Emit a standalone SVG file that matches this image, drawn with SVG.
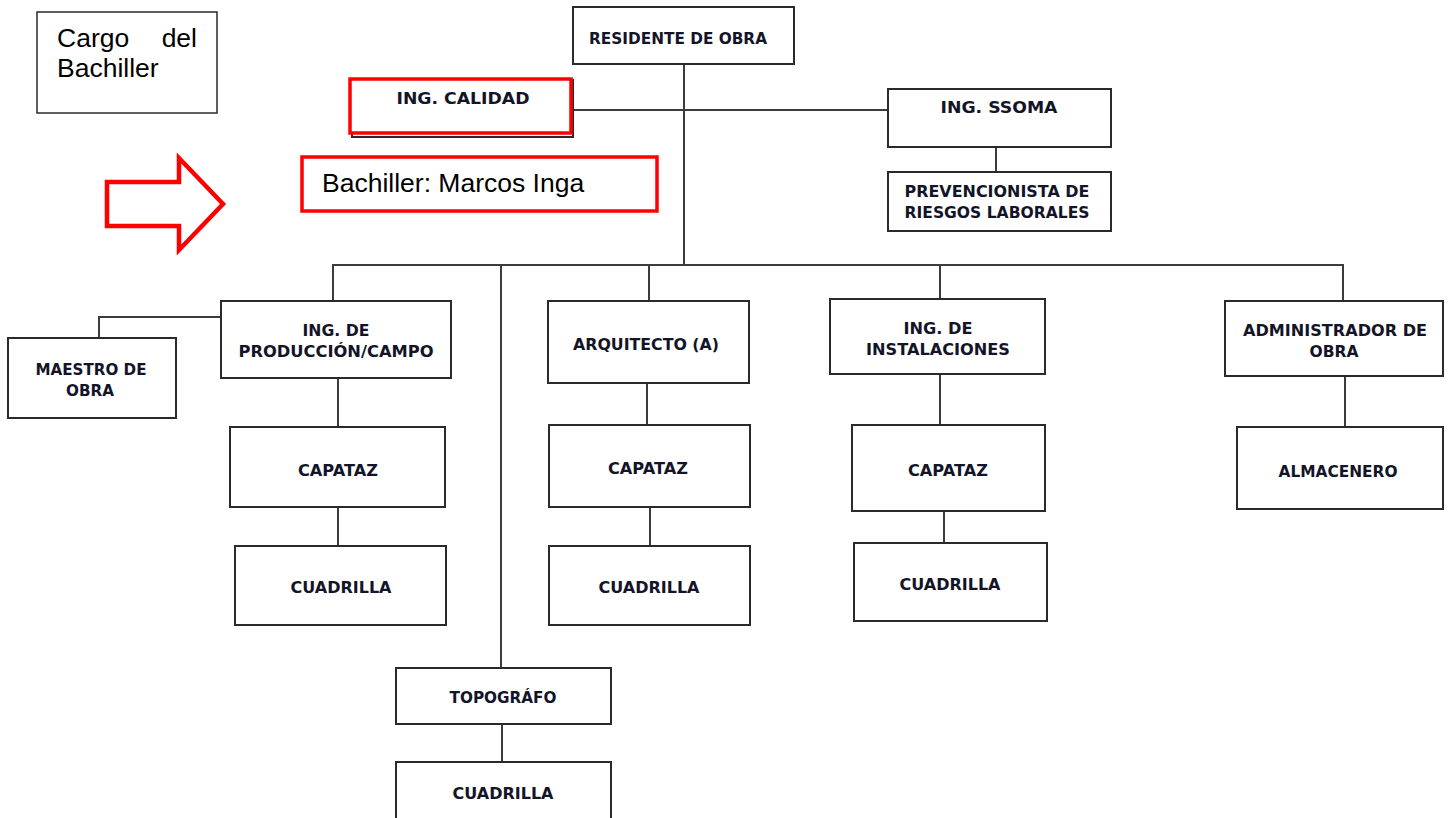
<svg xmlns="http://www.w3.org/2000/svg" width="1453" height="818" viewBox="0 0 1453 818">
<style>
.box{fill:#fff;stroke:#2a2a2a;stroke-width:2}
.red{fill:#fff;stroke:#ff0000;stroke-width:3.5}
.lbl{font-family:"DejaVu Sans",Verdana,sans-serif;font-weight:bold;font-size:15px;fill:#141428;text-anchor:middle}
.ar{font-family:"Liberation Sans",Arial,sans-serif;font-size:26.5px;fill:#000}
.ln{fill:none;stroke:#3c3c3c;stroke-width:2}
</style>
<rect width="1453" height="818" fill="#fff"/>
<g id="connectors">
<path class="ln" d="M684,64 V266"/>
<path class="ln" d="M573,110 H888"/>
<path class="ln" d="M996,147 V172"/>
<path class="ln" d="M333,301 V265 H1343 V301"/>
<path class="ln" d="M501,265 V668"/>
<path class="ln" d="M649,265 V301"/>
<path class="ln" d="M940,265 V299"/>
<path class="ln" d="M221,317 H99 V338"/>
<path class="ln" d="M338,378 V427"/>
<path class="ln" d="M338,507 V546"/>
<path class="ln" d="M647,383 V430"/>
<path class="ln" d="M650,507 V546"/>
<path class="ln" d="M940,374 V425"/>
<path class="ln" d="M944,511 V543"/>
<path class="ln" d="M1345,376 V427"/>
<path class="ln" d="M502,724 V762"/>
</g>
<g id="cargo">
<rect x="37" y="12" width="180" height="101" fill="#fff" stroke="#2a2a2a" stroke-width="1.5"/>
<text class="ar" x="57" y="47">Cargo</text>
<text class="ar" x="197" y="47" text-anchor="end">del</text>
<text class="ar" x="57" y="77">Bachiller</text>
</g>
<g id="arrow">
<path d="M107,182 L179,182 L179,158 L223,204 L179,250 L179,226 L107,226 Z" fill="#fff" stroke="#ff0000" stroke-width="4.5"/>
</g>
<g id="bachiller">
<rect class="red" x="302" y="157" width="355" height="54"/>
<text class="ar" x="322" y="192">Bachiller: Marcos Inga</text>
</g>
<g id="residente">
<rect class="box" x="573" y="7" width="221" height="57"/>
<text class="lbl" x="678" y="44" textLength="178" lengthAdjust="spacingAndGlyphs">RESIDENTE DE OBRA</text>
</g>
<g id="calidad">
<rect class="box" x="352" y="80" width="221" height="57"/>
<rect class="red" x="350" y="79" width="221" height="54"/>
<text class="lbl" x="463" y="104" textLength="133" lengthAdjust="spacingAndGlyphs">ING. CALIDAD</text>
</g>
<g id="ssoma">
<rect class="box" x="888" y="89" width="223" height="58"/>
<text class="lbl" x="999" y="113" textLength="117" lengthAdjust="spacingAndGlyphs">ING. SSOMA</text>
</g>
<g id="prevencionista">
<rect class="box" x="888" y="172" width="223" height="59"/>
<text class="lbl" x="997" y="197" textLength="185" lengthAdjust="spacingAndGlyphs">PREVENCIONISTA DE</text>
<text class="lbl" x="997" y="218" textLength="185" lengthAdjust="spacingAndGlyphs">RIESGOS LABORALES</text>
</g>
<g id="maestro">
<rect class="box" x="8" y="338" width="168" height="80"/>
<text class="lbl" x="91" y="375" textLength="111" lengthAdjust="spacingAndGlyphs">MAESTRO DE</text>
<text class="lbl" x="90" y="396" textLength="48" lengthAdjust="spacingAndGlyphs">OBRA</text>
</g>
<g id="produccion">
<rect class="box" x="221" y="301" width="230" height="77"/>
<text class="lbl" x="336" y="336" textLength="67" lengthAdjust="spacingAndGlyphs">ING. DE</text>
<text class="lbl" x="336" y="357" textLength="195" lengthAdjust="spacingAndGlyphs">PRODUCCIÓN/CAMPO</text>
</g>
<g id="capataz1">
<rect class="box" x="230" y="427" width="215" height="80"/>
<text class="lbl" x="338" y="476" textLength="80" lengthAdjust="spacingAndGlyphs">CAPATAZ</text>
</g>
<g id="cuadrilla1">
<rect class="box" x="235" y="546" width="211" height="79"/>
<text class="lbl" x="341" y="593" textLength="101" lengthAdjust="spacingAndGlyphs">CUADRILLA</text>
</g>
<g id="arquitecto">
<rect class="box" x="548" y="301" width="201" height="82"/>
<text class="lbl" x="646" y="350" textLength="146" lengthAdjust="spacingAndGlyphs">ARQUITECTO (A)</text>
</g>
<g id="capataz2">
<rect class="box" x="549" y="425" width="201" height="82"/>
<text class="lbl" x="648" y="474" textLength="80" lengthAdjust="spacingAndGlyphs">CAPATAZ</text>
</g>
<g id="cuadrilla2">
<rect class="box" x="549" y="546" width="201" height="79"/>
<text class="lbl" x="649" y="593" textLength="101" lengthAdjust="spacingAndGlyphs">CUADRILLA</text>
</g>
<g id="instalaciones">
<rect class="box" x="830" y="299" width="215" height="75"/>
<text class="lbl" x="938" y="334" textLength="69" lengthAdjust="spacingAndGlyphs">ING. DE</text>
<text class="lbl" x="938" y="355" textLength="144" lengthAdjust="spacingAndGlyphs">INSTALACIONES</text>
</g>
<g id="capataz3">
<rect class="box" x="852" y="425" width="193" height="86"/>
<text class="lbl" x="948" y="476" textLength="80" lengthAdjust="spacingAndGlyphs">CAPATAZ</text>
</g>
<g id="cuadrilla3">
<rect class="box" x="854" y="543" width="193" height="78"/>
<text class="lbl" x="950" y="590" textLength="101" lengthAdjust="spacingAndGlyphs">CUADRILLA</text>
</g>
<g id="administrador">
<rect class="box" x="1225" y="301" width="218" height="75"/>
<text class="lbl" x="1335" y="336" textLength="184" lengthAdjust="spacingAndGlyphs">ADMINISTRADOR DE</text>
<text class="lbl" x="1334" y="357" textLength="49" lengthAdjust="spacingAndGlyphs">OBRA</text>
</g>
<g id="almacenero">
<rect class="box" x="1237" y="427" width="206" height="82"/>
<text class="lbl" x="1338" y="477" textLength="119" lengthAdjust="spacingAndGlyphs">ALMACENERO</text>
</g>
<g id="topografo">
<rect class="box" x="396" y="668" width="215" height="56"/>
<text class="lbl" x="503" y="703" textLength="107" lengthAdjust="spacingAndGlyphs">TOPOGRÁFO</text>
</g>
<g id="cuadrilla4">
<rect class="box" x="396" y="762" width="215" height="60"/>
<text class="lbl" x="503" y="799" textLength="101" lengthAdjust="spacingAndGlyphs">CUADRILLA</text>
</g>
</svg>
